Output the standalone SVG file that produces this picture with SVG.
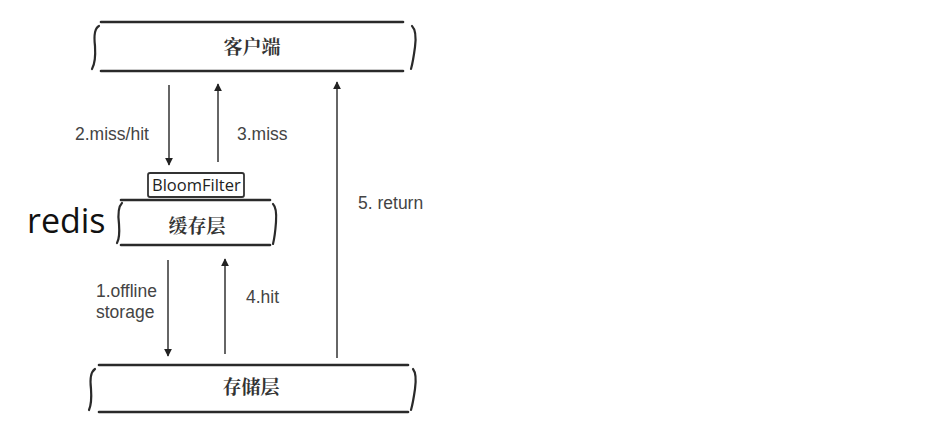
<svg xmlns="http://www.w3.org/2000/svg" width="929" height="436" viewBox="0 0 929 436">
<style>
.edge{stroke:#2a2a2a;stroke-width:2.6;fill:none;stroke-linecap:round}
.brace{stroke:#2a2a2a;stroke-width:2.2;fill:none;stroke-linecap:round}
.cn{font-family:"Noto Serif CJK SC","Noto Sans CJK SC",serif;font-size:19px;fill:#333;text-anchor:middle;font-weight:bold}
.lbl{font-family:"Liberation Sans",Arial,sans-serif;font-size:17.5px;fill:#444}
.arrow{stroke:#333;stroke-width:1.5;fill:none}
</style>
<defs>
<marker id="ah" viewBox="0 0 10 10" refX="9" refY="5" markerWidth="8" markerHeight="8" markerUnits="userSpaceOnUse" orient="auto">
<path d="M0,0 L10,5 L0,10 z" fill="#222"/>
</marker>
<clipPath id="bfclip"><rect x="148" y="173" width="96" height="24"/></clipPath>
</defs>
<rect width="929" height="436" fill="#fff"/>
<g id="client">
<line class="edge" x1="101" y1="22" x2="403" y2="22"/>
<line class="edge" x1="101" y1="71" x2="403" y2="71"/>
<path class="brace" d="M99,26 Q93,29 95,46 Q96,62 92,69"/>
<path class="brace" d="M412,26 Q417,31 415,47 Q413,62 411,69"/>
<text class="cn" x="252" y="54">客户端</text>
</g>
<g id="bloomfilter">
<rect x="148" y="173" width="96" height="24" rx="2" fill="#fff" stroke="#333" stroke-width="1.8"/>
<text x="152" y="191" clip-path="url(#bfclip)" font-family="Open Sans,'Liberation Sans',sans-serif" font-size="16.5" fill="#222">BloomFilter</text>
</g>
<g id="cache">
<line class="edge" x1="121" y1="200" x2="270" y2="200"/>
<line class="edge" x1="121" y1="245" x2="270" y2="245"/>
<path class="brace" d="M122,203 Q117,208 119,224 Q120,238 117,243"/>
<path class="brace" d="M273,204 Q277,208 276,222 Q275,236 273,244"/>
<text class="cn" x="197" y="233">缓存层</text>
<text x="27" y="233" font-family="Open Sans,'Liberation Sans',sans-serif" font-size="34" fill="#111">redis</text>
</g>
<g id="storage">
<line class="edge" x1="99" y1="365" x2="408" y2="365"/>
<line class="edge" x1="99" y1="412" x2="408" y2="412"/>
<path class="brace" d="M95,369 Q89,373 91,389 Q92,403 89,410"/>
<path class="brace" d="M413,369 Q417,374 415,389 Q413,403 411,410"/>
<text class="cn" x="251" y="394">存储层</text>
</g>
<g id="connectors">
<line class="arrow" x1="169" y1="85" x2="169" y2="165" marker-end="url(#ah)"/>
<line class="arrow" x1="218" y1="162" x2="218" y2="84" marker-end="url(#ah)"/>
<line class="arrow" x1="168" y1="260" x2="168" y2="356" marker-end="url(#ah)"/>
<line class="arrow" x1="225" y1="354" x2="225" y2="259" marker-end="url(#ah)"/>
<line class="arrow" x1="337" y1="358" x2="337" y2="82" marker-end="url(#ah)"/>
<text class="lbl" x="75" y="140">2.miss/hit</text>
<text class="lbl" x="237" y="140">3.miss</text>
<text class="lbl" x="96" y="297">1.offline</text>
<text class="lbl" x="96" y="318">storage</text>
<text class="lbl" x="246" y="303">4.hit</text>
<text class="lbl" x="358" y="209">5. return</text>
</g>
</svg>
